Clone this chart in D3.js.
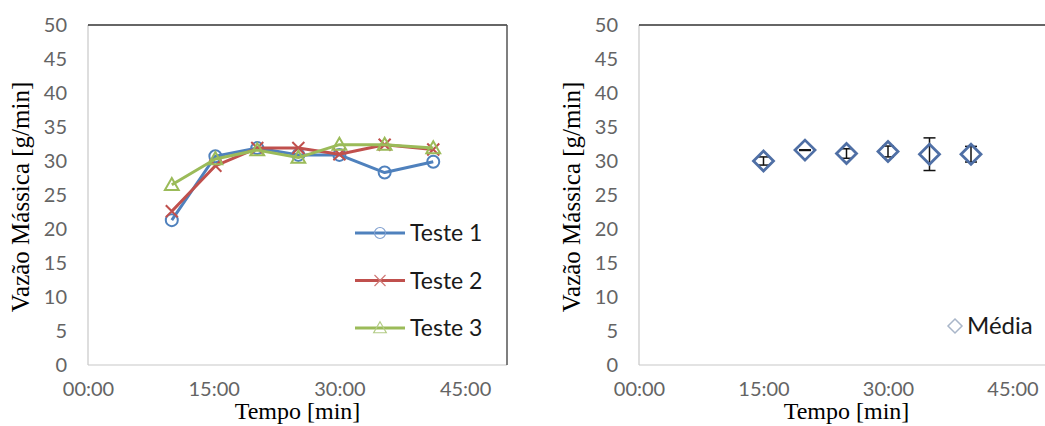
<!DOCTYPE html>
<html>
<head>
<meta charset="utf-8">
<script src="https://cdn.jsdelivr.net/npm/d3@7"></script>
<style>
  body { margin: 0; background: #fff; }
  svg { display: block; }
  .tick text { font-family: Lato, "Open Sans", sans-serif; font-size: 20px; fill: #646464; }
  .title { font-family: "Liberation Serif", "Times New Roman", serif; font-size: 24px; fill: #000; }
  .legend text { font-family: Lato, "Open Sans", sans-serif; font-size: 23px; fill: #1a1a1a; }
</style>
</head>
<body>
<div class="chart"></div>
<script>
const svgWidth = 1045
const svgHeight = 426

// left chart: three runs (time in minutes)
const testTimes = [10, 15.2, 20.2, 25.1, 30, 35.4, 41.2]
const teste1 = [21.3, 30.7, 31.9, 30.9, 30.9, 28.3, 29.9]
const teste2 = [22.6, 29.3, 31.9, 31.9, 31.0, 32.4, 31.7]
const teste3 = [26.5, 30.3, 31.6, 30.5, 32.4, 32.4, 31.9]
const seriesNames = ["Teste 1", "Teste 2", "Teste 3"]

// right chart: average with error bars
const meanTimes = [15, 20, 25, 30, 35, 40]
const meanValues = [30.0, 31.6, 31.1, 31.4, 31.0, 31.0]
const meanErrors = [0.6, 0.05, 0.7, 0.8, 2.4, 1.15]

const xTicks = [0, 15, 30, 45]
const yTicks = [0, 5, 10, 15, 20, 25, 30, 35, 40, 45, 50]

const colors = ["#4F81BD", "#C0504D", "#9BBB59"]
const legendColors = ["#7f9fcf", "#d07a78", "#b3cc86"]

let svg = d3
  .select(".chart")
  .append("svg")
  .attr("width", svgWidth)
  .attr("height", svgHeight)

const fmtTime = m => String(m).padStart(2, "0") + ":00"

function drawFrame(left, right, clipRight) {
  let top = 25
  let bottom = 365
  let x = d3.scaleLinear().domain([0, 50]).range([left, right])
  let y = d3.scaleLinear().domain([0, 50]).range([bottom, top])

  let g = svg.append("g")

  // plot area border: light left/bottom, dark top/right
  g.append("line").attr("x1", left).attr("x2", left).attr("y1", top).attr("y2", bottom)
    .attr("stroke", "#c8c8c8").attr("stroke-width", 1.2)
  g.append("line").attr("x1", left).attr("x2", Math.min(right, clipRight)).attr("y1", bottom).attr("y2", bottom)
    .attr("stroke", "#c8c8c8").attr("stroke-width", 1.2)
  g.append("line").attr("x1", left).attr("x2", Math.min(right, clipRight)).attr("y1", top).attr("y2", top)
    .attr("stroke", "#333").attr("stroke-width", 1.5)
  if (right <= clipRight) {
    g.append("line").attr("x1", right).attr("x2", right).attr("y1", top).attr("y2", bottom)
      .attr("stroke", "#555").attr("stroke-width", 1.5)
  }

  let yAxis = g.append("g")
    .attr("transform", `translate(${left},0)`)
    .call(d3.axisLeft(y).tickValues(yTicks).tickSize(0).tickPadding(21))
  yAxis.select(".domain").remove()

  let xAxis = g.append("g")
    .attr("transform", `translate(0,${bottom})`)
    .call(d3.axisBottom(x).tickValues(xTicks).tickFormat(fmtTime).tickSize(0).tickPadding(17))
  xAxis.select(".domain").remove()

  g.append("text")
    .attr("class", "title")
    .attr("x", (left + right) / 2 > clipRight ? left + 210 : (left + right) / 2)
    .attr("y", 419)
    .attr("text-anchor", "middle")
    .text("Tempo [min]")

  g.append("text")
    .attr("class", "title")
    .attr("transform", `translate(${left - 59},${(top + bottom) / 2 + 2}) rotate(-90)`)
    .attr("text-anchor", "middle")
    .style("font-size", "25px")
    .text("Vazão Mássica [g/min]")

  return { g, x, y }
}

function marker(sel, i, size, color, width) {
  if (i === 0) {
    sel.append("circle").attr("r", size).attr("fill", "none")
      .attr("stroke", color).attr("stroke-width", width)
  } else if (i === 1) {
    let s = size
    sel.append("path").attr("d", `M${-s},${-s}L${s},${s}M${-s},${s}L${s},${-s}`)
      .attr("stroke", color).attr("stroke-width", width).attr("fill", "none")
  } else {
    let s = size * 1.15
    sel.append("path").attr("d", `M0,${-s}L${s},${s * 0.75}L${-s},${s * 0.75}Z`)
      .attr("stroke", color).attr("stroke-width", width).attr("fill", "none")
  }
}

// ---- left chart ----
let leftChart = drawFrame(88, 507, 1045)
let allSeries = [teste1, teste2, teste3]

let line = d3.line()
  .x((d, i) => leftChart.x(testTimes[i]))
  .y(d => leftChart.y(d))

allSeries.forEach((vals, si) => {
  leftChart.g.append("path")
    .datum(vals)
    .attr("d", line)
    .attr("fill", "none")
    .attr("stroke", colors[si])
    .attr("stroke-width", 3)
    .attr("stroke-linejoin", "round")

  leftChart.g.selectAll(null)
    .data(vals)
    .enter()
    .append("g")
    .attr("transform", (d, i) => `translate(${leftChart.x(testTimes[i])},${leftChart.y(d)})`)
    .each(function() { marker(d3.select(this), si, 6, colors[si], 2) })
})

let legend = leftChart.g.append("g").attr("class", "legend")
seriesNames.forEach((name, si) => {
  let ly = 233 + si * 47.5
  legend.append("line").attr("x1", 355).attr("x2", 405).attr("y1", ly).attr("y2", ly)
    .attr("stroke", colors[si]).attr("stroke-width", 3)
  let m = legend.append("g").attr("transform", `translate(380,${ly})`)
  marker(m, si, 5.5, legendColors[si], 1.2)
  legend.append("text").attr("x", 410).attr("y", ly + 8).text(name)
})

// ---- right chart ----
let rightChart = drawFrame(639, 1054, 1045)

let errs = rightChart.g.selectAll(".err")
  .data(meanValues)
  .enter()
  .append("g")
  .attr("transform", (d, i) => `translate(${rightChart.x(meanTimes[i])},0)`)

errs.append("line")
  .attr("x1", 0).attr("x2", 0)
  .attr("y1", (d, i) => rightChart.y(d + meanErrors[i]))
  .attr("y2", (d, i) => rightChart.y(d - meanErrors[i]))
  .attr("stroke", "#111").attr("stroke-width", 1.5)
errs.append("line")
  .attr("x1", -6).attr("x2", 6)
  .attr("y1", (d, i) => rightChart.y(d + meanErrors[i]))
  .attr("y2", (d, i) => rightChart.y(d + meanErrors[i]))
  .attr("stroke", "#111").attr("stroke-width", 1.5)
errs.append("line")
  .attr("x1", -6).attr("x2", 6)
  .attr("y1", (d, i) => rightChart.y(d - meanErrors[i]))
  .attr("y2", (d, i) => rightChart.y(d - meanErrors[i]))
  .attr("stroke", "#111").attr("stroke-width", 1.5)

const diamond = s => `M0,${-s}L${s},0L0,${s}L${-s},0Z`

rightChart.g.selectAll(".mean")
  .data(meanValues)
  .enter()
  .append("path")
  .attr("d", diamond(10))
  .attr("transform", (d, i) => `translate(${rightChart.x(meanTimes[i])},${rightChart.y(d)})`)
  .attr("fill", "none")
  .attr("stroke", "#4f6fa5")
  .attr("stroke-width", 2.8)

let legend2 = rightChart.g.append("g").attr("class", "legend")
legend2.append("path").attr("d", diamond(7))
  .attr("transform", "translate(955,326)")
  .attr("fill", "none").attr("stroke", "#a9b6c9").attr("stroke-width", 1.5)
legend2.append("text").attr("x", 967).attr("y", 334).style("font-size", "24px").text("Média")
</script>
</body>
</html>
